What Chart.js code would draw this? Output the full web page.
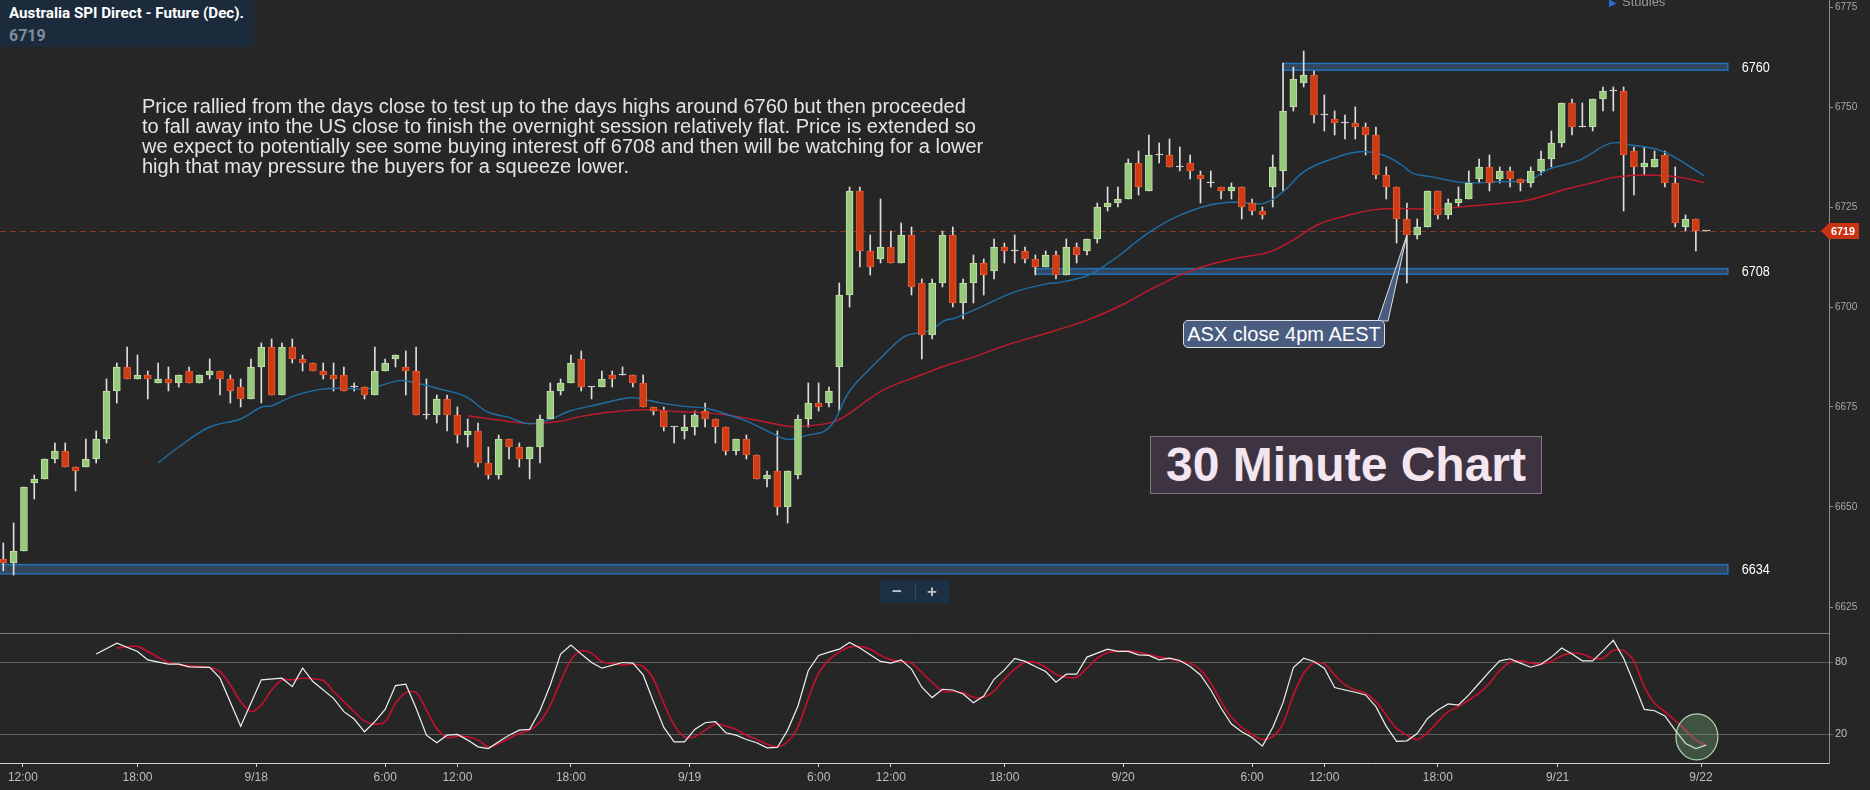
<!DOCTYPE html>
<html>
<head>
<meta charset="utf-8">
<title>Australia SPI Direct - Future (Dec). 30 Minute Chart</title>
<script src="https://cdn.jsdelivr.net/npm/chart.js@4.4.1/dist/chart.umd.min.js"></script>
<style>
  html, body { margin: 0; padding: 0; background: #262626; }
  #wrap { position: relative; width: 1870px; height: 790px; overflow: hidden; background: #262626; font-family: "Liberation Sans", Arial, sans-serif; }
  canvas { position: absolute; left: 0; }
  #priceCanvas { top: 0; }
  #stochCanvas { top: 633px; }
  .head { position: absolute; left: 0; top: 0; width: 254px; height: 47px; background: #1c2b3c; }
  .head .name { position: absolute; left: 9px; top: 5px; font: bold 14px/16px Roboto, sans-serif; color: #fff; white-space: nowrap; transform-origin: left top; }
  .head .last { position: absolute; left: 9px; top: 27px; font: bold 16px/18px Roboto, sans-serif; color: #7f8d9b; }
  .studies { position: absolute; left: 1609px; top: -6px; font: 13px/16px "Liberation Sans", Arial, sans-serif; color: #9a9a9a; white-space: nowrap; }
  .studies span { color: #2a6fd6; font-size: 10px; margin-right: 5px; }
  .note { position: absolute; left: 142px; top: 96px; font: 20px/20px "Liberation Sans", Arial, sans-serif; color: #e4e4e4; white-space: pre; }
  .asx { position: absolute; left: 1183px; top: 320px; width: 202px; height: 28px; box-sizing: border-box; border: 1px solid #d8dde8; border-radius: 5px; background: #4a5d80; color: #fff; font: 20px/26px "Liberation Sans", Arial, sans-serif; text-align: center; white-space: nowrap; }
  .tf { position: absolute; left: 1150px; top: 436px; width: 392px; height: 58px; box-sizing: border-box; border: 1.5px solid #85738a; background: #3e3441; color: #f3e6f0; font: bold 48px/55px "Liberation Sans", Arial, sans-serif; text-align: center; white-space: nowrap; }
  .zoom { position: absolute; left: 880px; top: 580px; width: 69px; height: 23px; background: #1c3044; border-radius: 2px; color: #c4c4c4; font: bold 17px/23px "Liberation Sans", Arial, sans-serif; }
  .zoom b { position: absolute; top: 0; width: 34px; text-align: center; }
  .zoom i { position: absolute; left: 35px; top: 3px; width: 1px; height: 17px; background: #2f4a62; }
</style>
</head>
<body>
<div id="wrap">
  <canvas id="priceCanvas" width="1870" height="633"></canvas>
  <canvas id="stochCanvas" width="1870" height="157"></canvas>
  <div class="head"><div class="name">Australia SPI Direct - Future (Dec).</div><div class="last">6719</div></div>
  <div class="studies"><span>&#9654;</span>Studies</div>
  <div class="note">Price rallied from the days close to test up to the days highs around 6760 but then proceeded
to fall away into the US close to finish the overnight session relatively flat. Price is extended so
we expect to potentially see some buying interest off 6708 and then will be watching for a lower
high that may pressure the buyers for a squeeze lower.</div>
  <div class="asx">ASX close 4pm AEST</div>
  <div class="tf">30 Minute Chart</div>
  <div class="zoom"><b style="left:0">&minus;</b><i></i><b style="left:35px">+</b></div>
</div>
<script>
// 30 minute bars, oldest first
const openP = [
  6637, 6636, 6639, 6656, 6657, 6662, 6664, 6660, 6660, 6662,
  6667, 6679, 6685, 6682, 6683, 6681, 6682, 6681, 6684, 6681,
  6683, 6684, 6682, 6680, 6677, 6685, 6690, 6678, 6690, 6687,
  6686, 6684, 6683, 6683, 6680, 6680, 6678, 6684, 6687, 6685,
  6684, 6673, 6673, 6677, 6673, 6668, 6669, 6661, 6658, 6667,
  6665, 6662, 6665, 6672, 6679, 6681, 6687, 6680, 6680, 6683,
  6683, 6683, 6681, 6675, 6674, 6670, 6669, 6670, 6674, 6672,
  6670, 6664, 6667, 6663, 6657, 6659, 6650, 6658, 6672, 6676,
  6676, 6685, 6703, 6729, 6714, 6712, 6715, 6711, 6718, 6706,
  6693, 6706, 6718, 6701, 6706, 6711, 6709, 6715, 6714, 6714,
  6712, 6710, 6713, 6708, 6715, 6714, 6717, 6725, 6726, 6727,
  6736, 6729, 6738, 6738, 6735, 6736, 6733, 6731, 6730, 6729,
  6730, 6726, 6724, 6730, 6734, 6750, 6756, 6758, 6748, 6747,
  6746, 6746, 6745, 6743, 6733, 6730, 6722, 6718, 6720, 6729,
  6723, 6726, 6727, 6732, 6735, 6732, 6734, 6732, 6731, 6734,
  6737, 6741, 6751, 6745, 6745, 6752, 6754, 6754, 6739, 6735,
  6735, 6738, 6731, 6720, 6722, 6719
];
const highP = [
  6641, 6646, 6655, 6658, 6662, 6666, 6666, 6660, 6667, 6669,
  6682, 6686, 6690, 6688, 6684, 6686, 6685, 6683, 6685, 6683,
  6687, 6684, 6683, 6682, 6687, 6691, 6692, 6691, 6692, 6688,
  6686, 6686, 6686, 6685, 6681, 6680, 6690, 6687, 6688, 6689,
  6690, 6682, 6678, 6678, 6675, 6672, 6671, 6665, 6668, 6667,
  6666, 6665, 6673, 6681, 6682, 6688, 6689, 6680, 6684, 6684,
  6685, 6683, 6683, 6675, 6675, 6670, 6673, 6674, 6676, 6672,
  6670, 6667, 6668, 6663, 6659, 6669, 6659, 6673, 6681, 6681,
  6680, 6706, 6730, 6730, 6718, 6727, 6719, 6721, 6720, 6707,
  6707, 6719, 6720, 6707, 6713, 6712, 6717, 6716, 6718, 6715,
  6713, 6714, 6714, 6717, 6716, 6717, 6726, 6730, 6730, 6737,
  6739, 6743, 6741, 6742, 6740, 6738, 6734, 6734, 6730, 6731,
  6730, 6727, 6725, 6738, 6761, 6760, 6764, 6759, 6753, 6749,
  6748, 6750, 6746, 6745, 6735, 6730, 6726, 6722, 6729, 6729,
  6727, 6730, 6734, 6737, 6738, 6735, 6735, 6732, 6735, 6739,
  6744, 6751, 6752, 6751, 6752, 6755, 6755, 6755, 6740, 6740,
  6739, 6739, 6735, 6723, 6722, 6719
];
const lowP = [
  6634, 6633, 6639, 6652, 6657, 6661, 6660, 6654, 6660, 6661,
  6666, 6676, 6682, 6682, 6677, 6681, 6679, 6680, 6681, 6681,
  6682, 6678, 6676, 6675, 6677, 6676, 6678, 6678, 6686, 6684,
  6684, 6682, 6679, 6679, 6679, 6677, 6678, 6684, 6685, 6678,
  6673, 6672, 6671, 6669, 6666, 6665, 6660, 6657, 6657, 6662,
  6660, 6657, 6661, 6672, 6678, 6681, 6679, 6677, 6680, 6680,
  6683, 6680, 6675, 6673, 6669, 6666, 6667, 6668, 6670, 6666,
  6663, 6663, 6662, 6657, 6655, 6648, 6646, 6657, 6670, 6674,
  6675, 6674, 6700, 6710, 6708, 6711, 6711, 6711, 6703, 6687,
  6692, 6705, 6700, 6697, 6701, 6703, 6707, 6711, 6711, 6711,
  6708, 6710, 6707, 6708, 6711, 6713, 6716, 6724, 6725, 6727,
  6728, 6729, 6736, 6735, 6734, 6732, 6726, 6730, 6727, 6727,
  6722, 6723, 6722, 6725, 6729, 6749, 6755, 6746, 6744, 6743,
  6742, 6742, 6738, 6732, 6727, 6716, 6706, 6717, 6720, 6722,
  6722, 6725, 6727, 6731, 6729, 6731, 6730, 6729, 6730, 6733,
  6735, 6740, 6743, 6745, 6744, 6749, 6749, 6724, 6728, 6733,
  6735, 6730, 6720, 6719, 6714, 6719
];
const closeP = [
  6636, 6639, 6655, 6657, 6662, 6664, 6660, 6659, 6662, 6667,
  6679, 6685, 6682, 6683, 6682, 6682, 6681, 6683, 6681, 6683,
  6684, 6682, 6679, 6677, 6685, 6690, 6678, 6690, 6687, 6686,
  6684, 6683, 6682, 6679, 6680, 6678, 6684, 6686, 6688, 6684,
  6673, 6673, 6677, 6673, 6668, 6669, 6661, 6658, 6667, 6665,
  6662, 6665, 6672, 6679, 6681, 6686, 6680, 6680, 6682, 6682,
  6683, 6681, 6675, 6674, 6670, 6670, 6670, 6673, 6672, 6670,
  6664, 6667, 6663, 6657, 6658, 6650, 6659, 6672, 6676, 6675,
  6679, 6703, 6729, 6714, 6710, 6715, 6711, 6718, 6705, 6693,
  6706, 6718, 6701, 6706, 6711, 6708, 6715, 6714, 6714, 6712,
  6710, 6713, 6708, 6715, 6713, 6717, 6725, 6726, 6727, 6736,
  6730, 6738, 6738, 6735, 6735, 6734, 6732, 6731, 6729, 6730,
  6725, 6724, 6723, 6735, 6749, 6757, 6758, 6748, 6748, 6746,
  6746, 6745, 6743, 6733, 6730, 6722, 6718, 6720, 6729, 6723,
  6726, 6727, 6731, 6735, 6731, 6734, 6732, 6731, 6734, 6737,
  6741, 6751, 6745, 6745, 6752, 6754, 6754, 6738, 6735, 6736,
  6737, 6731, 6721, 6722, 6719, 6719
];

// moving averages: [bar, price]
const maFast = [
  [15, 6661], [17, 6665], [20, 6670], [23, 6672], [25, 6675], [26, 6675.3], [28, 6677.6], [30.7, 6679.4],
  [33, 6679.7], [35.2, 6679.5], [38.4, 6681.6], [40, 6681], [42.3, 6679.5], [44.8, 6677.6], [46.9, 6673.8],
  [49, 6672.4], [50.9, 6670.8], [52.9, 6671.8], [54.9, 6674], [57.4, 6675.5], [60.6, 6677.3], [61.9, 6677],
  [63.9, 6675.9], [66.2, 6675.1], [68.1, 6674.7], [70.3, 6673], [72.2, 6671.3], [74.5, 6668.4], [76, 6666.9],
  [77.7, 6667.8], [80, 6669.8], [82, 6679], [83.9, 6684.4], [85, 6687.2], [87.3, 6692.6], [88.9, 6693.6],
  [89.9, 6694.3], [91.2, 6696.6], [92.2, 6697.2], [94.8, 6700.1], [98, 6703.8], [101.3, 6705.9], [102.3, 6706.1],
  [105.2, 6708], [107.1, 6711], [108.4, 6713.4], [109.2, 6715.1], [111.1, 6718.8], [113.7, 6722.6], [116.9, 6725.5],
  [119.5, 6726.2], [122.1, 6725.9], [124, 6728.8], [126, 6733.8], [128.5, 6736.8], [131.4, 6738.8], [133.7, 6738],
  [135.5, 6735.5], [136.6, 6733.4], [138.3, 6732.6], [141.5, 6731.1], [144.7, 6731.3], [147.9, 6731.8],
  [149.6, 6734.3], [152.8, 6736.8], [155.7, 6740.9], [157.7, 6740.5], [160.9, 6738.8], [164.8, 6732.8]
];
const maSlow = [
  [45, 6672.8], [47.8, 6671.8], [51, 6670.9], [53.6, 6671.3], [55.9, 6672.6], [59.1, 6673.8], [62.3, 6674.3],
  [65.6, 6673.8], [68.8, 6673.4], [72, 6672.2], [75.3, 6670.5], [76.9, 6670.1], [80.2, 6671.1], [81.5, 6672.6],
  [84, 6677.2], [85.6, 6679.7], [88.9, 6683], [91.5, 6685.5], [93.7, 6687.2], [97, 6690.3], [101.8, 6694],
  [105.1, 6696.8], [108.4, 6700.5], [111.4, 6704.7], [115.3, 6709.3], [119.5, 6712.2], [122.7, 6713.8],
  [125, 6716.8], [127.3, 6720.5], [129.8, 6722.6], [133.1, 6724.4], [136.3, 6724.6], [138.6, 6724.4],
  [141.5, 6725.1], [144.7, 6725.8], [147.9, 6726.8], [151.2, 6729.3], [154.4, 6731.3], [156, 6732.4],
  [159.3, 6733], [162.5, 6732.4], [164.8, 6731.1]
];

// stochastic %K (white) and %D (red): [bar, value]
const stochK = [
  [9, 86.7], [11, 95.8], [13, 88.9], [14, 81.9], [16, 78.3], [17, 78.3], [18, 76.1], [20, 75.6], [21, 66.7],
  [23, 26.9], [25, 65.3], [27, 66.7], [28, 59.7], [29, 75], [30, 63.9], [32, 50], [33, 38.9], [34, 32.8],
  [35, 22.2], [36, 30.6], [37, 40.8], [38, 60.6], [39, 61.7], [40, 41.7], [41, 19.4], [42, 13.1], [43, 19.4],
  [44, 20], [45, 15.3], [46, 9.7], [47, 8.3], [48, 13.9], [49, 19.4], [50, 23.6], [51, 24.2], [52, 39.7],
  [53, 61.1], [54, 86.7], [55, 94.2], [56, 86.7], [57, 79.7], [58, 75], [60, 79.7], [61, 79.2], [62, 69.4],
  [63, 47.2], [64, 25.8], [65, 13.9], [66, 13.9], [67, 24.2], [68, 29.7], [69, 30.6], [70, 21.4], [71, 19.4],
  [72, 15.8], [73, 13.1], [74, 8.9], [75, 9.2], [76, 23.6], [77, 43.6], [78, 73.1], [79, 85.6], [80, 88.3],
  [81, 90.8], [82, 96.4], [83, 91.7], [84, 86.1], [85, 80.6], [86, 79.2], [87, 81.9], [88, 74.2], [89, 59.2],
  [90, 50.6], [91, 57.5], [92, 56.9], [93, 53.6], [94, 46.4], [95, 51.9], [96, 65.8], [97, 73.6], [98, 83.1],
  [99, 80.6], [100, 76.4], [101, 72.2], [102, 63.3], [103, 70], [104, 70], [105, 84.2], [106, 87.5], [107, 90.8],
  [108, 88.9], [109, 88.9], [110, 86.1], [111, 85.6], [112, 81.9], [113, 83.3], [114, 81.4], [115, 76.4],
  [116, 69.4], [117, 56.9], [118, 41.7], [119, 28.6], [120, 22.2], [121, 17.5], [122, 10.3], [123, 25.8],
  [124, 46.4], [125, 75.6], [126, 83.3], [127, 80.6], [128, 75], [129, 58.9], [130, 56.9], [131, 55],
  [132, 52.8], [133, 43.1], [134, 26.7], [135, 14.2], [136, 14.7], [137, 20.8], [138, 33.3], [139, 40.3],
  [140, 45.3], [141, 44.4], [142, 52.8], [143, 62.5], [144, 72.2], [145, 81.1], [146, 82.8], [147, 79.2],
  [148, 75.8], [149, 78.3], [150, 84.2], [151, 91.7], [152, 86.7], [153, 81.1], [154, 81.1], [155, 89.4],
  [156, 98.1], [157, 83.3], [158, 62.5], [159, 40.8], [160, 39.7], [161, 35.3], [162, 23.6], [163, 12.5],
  [164, 8.3], [165, 11.1]
];
const stochD = [
  [11, 91.7], [13, 93.1], [14, 88.9], [16, 80], [18, 76.9], [20, 75.6], [21, 72.2], [22, 61.1], [23, 47.2],
  [24, 38.9], [25, 44.4], [26, 56.9], [27, 65.3], [28, 65.3], [29, 66.7], [31, 64.7], [32, 55.6], [33, 47.2],
  [34, 38.9], [35, 31.1], [36, 28.6], [37, 30.6], [38, 45.8], [39, 54.7], [40, 54.7], [41, 40.3], [42, 25],
  [43, 17.5], [44, 18.6], [45, 18.1], [46, 15.3], [47, 9.7], [48, 12.5], [49, 16.7], [50, 20.8], [51, 23.6],
  [52, 30.6], [53, 44.4], [54, 63.9], [55, 81.9], [56, 89.4], [57, 87.5], [58, 80.6], [60, 77.8], [61, 78.3],
  [62, 76.4], [63, 65.8], [64, 45.8], [65, 27.8], [66, 18.1], [67, 18.1], [69, 28.6], [70, 26.9], [71, 24.2],
  [72, 19.4], [73, 15.8], [74, 11.9], [75, 9.7], [76, 13.9], [77, 26.4], [78, 50], [79, 70.8], [80, 81.9],
  [81, 88.3], [82, 92.5], [83, 93.1], [84, 90.8], [85, 85.6], [86, 81.9], [87, 80.6], [88, 79.2], [89, 71.4],
  [90, 63.1], [91, 56.1], [92, 55.6], [93, 54.7], [94, 50.8], [95, 50.8], [96, 56.1], [97, 65.8], [98, 74.2],
  [99, 79.7], [100, 79.7], [101, 75.8], [102, 70], [103, 67.5], [104, 67.5], [105, 75], [106, 83.3],
  [107, 88.1], [108, 88.9], [109, 89.4], [110, 88.1], [111, 86.1], [112, 84.2], [113, 82.8], [114, 80.6],
  [115, 79.2], [116, 73.6], [117, 62.5], [118, 47.2], [119, 34.2], [120, 25.8], [121, 20], [122, 15.8],
  [123, 18.1], [124, 29.2], [125, 52.8], [126, 70.8], [127, 79.2], [128, 78.6], [129, 69.4], [130, 61.1],
  [131, 56.9], [132, 54.2], [133, 47.2], [134, 36.1], [135, 25], [136, 19.4], [137, 15.8], [138, 21.4],
  [139, 30.6], [140, 38.9], [141, 43.1], [142, 48.6], [143, 54.2], [144, 62.5], [145, 73.1], [146, 80],
  [147, 81.1], [148, 79.2], [149, 78.6], [150, 80.6], [151, 85.3], [152, 87.5], [153, 86.7], [154, 83.3],
  [155, 83.3], [156, 89.7], [157, 89.4], [158, 80.6], [159, 59.7], [160, 45.8], [161, 38.9], [162, 31.4],
  [163, 23.6], [164, 15.3], [165, 11.1]
];

// axis ticks
const timeTickBars = [1.9, 13, 24.5, 37, 44, 55, 66.5, 79, 86, 97, 108.5, 121, 128, 139, 150.6, 164.5];
const timeTickLabels = ["12:00", "18:00", "9/18", "6:00", "12:00", "18:00", "9/19", "6:00", "12:00", "18:00", "9/20", "6:00", "12:00", "18:00", "9/21", "9/22"];
const priceTicks = [6625, 6650, 6675, 6700, 6725, 6750, 6775];
const stochTicks = [20, 80];

// drawn levels (zones) and markers
const zoneLabels = ["6760", "6708", "6634"];
const zoneLow = [6759.2, 6708.2, 6633.3];
const zoneHigh = [6760.9, 6709.6, 6635.6];
const zoneFromBar = [124, 100, null];
const zoneToBar = 167.1;
const lastPrice = 6719;
const asxBar = 136;
const asxPrice = 6718;
const circleBar = 164.1;
const circleValue = 18;

const X_MIN = -0.32;
const X_MAX = 176.9;

const GREEN = "#99c97c", GREEN_EDGE = "#c0e2aa";
const RED = "#cf3b12", RED_EDGE = "#e85b32";
const FLAT = "#e2e2e2";

function bodyColor(i, up, down) {
  if (closeP[i] > openP[i]) return up;
  if (closeP[i] < openP[i]) return down;
  return FLAT;
}

function pinAxis(width, height) {
  return function (scale) {
    if (width != null) scale.width = width;
    if (height != null) scale.height = height;
    scale.paddingTop = 0;
    scale.paddingBottom = 0;
    scale.paddingLeft = 0;
    scale.paddingRight = 0;
  };
}

const priceMarks = {
  id: "priceMarks",
  beforeDatasetsDraw(chart) {
    const { ctx, chartArea } = chart;
    const x = chart.scales.x, y = chart.scales.y;
    ctx.save();
    for (let k = 0; k < zoneLabels.length; k++) {
      const left = zoneFromBar[k] == null ? chartArea.left - 3 : x.getPixelForValue(zoneFromBar[k]);
      const right = x.getPixelForValue(zoneToBar);
      const top = y.getPixelForValue(zoneHigh[k]);
      const bottom = y.getPixelForValue(zoneLow[k]);
      ctx.fillStyle = "#34465b";
      ctx.fillRect(left, top, right - left, bottom - top);
      ctx.strokeStyle = "#2171b8";
      ctx.lineWidth = 1.5;
      ctx.strokeRect(left, top, right - left, bottom - top);
    }
    const yl = Math.round(y.getPixelForValue(lastPrice)) + 0.5;
    ctx.strokeStyle = "#8a3a2b";
    ctx.lineWidth = 1;
    ctx.setLineDash([6, 4]);
    ctx.beginPath();
    ctx.moveTo(chartArea.left, yl);
    ctx.lineTo(chartArea.right - 8, yl);
    ctx.stroke();
    ctx.restore();
  },
  afterDatasetsDraw(chart) {
    const { ctx } = chart;
    const x = chart.scales.x, y = chart.scales.y;
    ctx.save();
    ctx.beginPath();
    ctx.moveTo(1378, 321);
    ctx.lineTo(x.getPixelForValue(asxBar), y.getPixelForValue(asxPrice));
    ctx.lineTo(1388, 321);
    ctx.closePath();
    ctx.fillStyle = "#4a5d80";
    ctx.fill();
    ctx.strokeStyle = "#d8dde8";
    ctx.lineWidth = 1;
    ctx.stroke();
    ctx.restore();
  },
  afterDraw(chart) {
    const { ctx, chartArea } = chart;
    const x = chart.scales.x, y = chart.scales.y;
    ctx.save();
    ctx.fillStyle = "#ffffff";
    ctx.font = '14px "Liberation Sans", Arial, sans-serif';
    ctx.textBaseline = "middle";
    ctx.textAlign = "left";
    for (let k = 0; k < zoneLabels.length; k++) {
      const yc = y.getPixelForValue((zoneLow[k] + zoneHigh[k]) / 2);
      ctx.fillText(zoneLabels[k], x.getPixelForValue(zoneToBar) + 14, yc + 1, 28);
    }
    const yc = y.getPixelForValue(lastPrice);
    const tip = chartArea.right - 8;
    ctx.beginPath();
    ctx.moveTo(tip, yc);
    ctx.lineTo(tip + 8, yc - 8);
    ctx.lineTo(chartArea.right + 30, yc - 8);
    ctx.lineTo(chartArea.right + 30, yc + 8);
    ctx.lineTo(tip + 8, yc + 8);
    ctx.closePath();
    ctx.fillStyle = "#c93312";
    ctx.fill();
    ctx.fillStyle = "#ffffff";
    ctx.font = 'bold 11px "Liberation Sans", Arial, sans-serif';
    ctx.textAlign = "center";
    ctx.fillText(String(lastPrice), chartArea.right + 14, yc + 1, 24);
    ctx.restore();
  }
};

const stochMarks = {
  id: "stochMarks",
  beforeDatasetsDraw(chart) {
    const { ctx, chartArea } = chart;
    ctx.save();
    ctx.strokeStyle = "#7c7c7c";
    ctx.lineWidth = 1;
    ctx.beginPath();
    ctx.moveTo(chartArea.left, chartArea.top + 0.5);
    ctx.lineTo(chartArea.right, chartArea.top + 0.5);
    ctx.stroke();
    ctx.restore();
  },
  afterDatasetsDraw(chart) {
    const { ctx } = chart;
    const cx = chart.scales.x.getPixelForValue(circleBar);
    const cy = chart.scales.y.getPixelForValue(circleValue);
    ctx.save();
    ctx.beginPath();
    ctx.ellipse(cx, cy, 21, 23, 0, 0, Math.PI * 2);
    ctx.fillStyle = "rgba(120, 180, 130, 0.32)";
    ctx.fill();
    ctx.strokeStyle = "rgba(200, 235, 200, 0.85)";
    ctx.lineWidth = 1.2;
    ctx.stroke();
    ctx.restore();
  }
};

function pts(list) {
  return list.map((p) => ({ x: p[0], y: p[1] }));
}

function drawPrice() {
  const bars = openP.map((o, i) => i);
  new Chart(document.getElementById("priceCanvas"), {
    type: "bar",
    data: {
      datasets: [
        {
          label: "Wick",
          data: bars.map((i) => ({ x: i, y: [lowP[i], highP[i]] })),
          backgroundColor: "#dedede",
          barThickness: 1,
          grouped: false,
          order: 4,
        },
        {
          type: "line",
          label: "MA fast",
          data: pts(maFast),
          borderColor: "#1f6fa8",
          borderWidth: 1.4,
          pointRadius: 0,
          tension: 0.4,
          order: 3,
        },
        {
          type: "line",
          label: "MA slow",
          data: pts(maSlow),
          borderColor: "#c21a2c",
          borderWidth: 1.4,
          pointRadius: 0,
          tension: 0.4,
          order: 3,
        },
        {
          label: "Body",
          data: bars.map((i) => ({ x: i, y: [openP[i], closeP[i]] })),
          backgroundColor: bars.map((i) => bodyColor(i, GREEN, RED)),
          borderColor: bars.map((i) => bodyColor(i, GREEN_EDGE, RED_EDGE)),
          borderWidth: 1,
          borderSkipped: false,
          barThickness: 7,
          minBarLength: 1,
          grouped: false,
          order: 1,
        },
      ],
    },
    options: {
      responsive: false,
      animation: false,
      events: [],
      layout: { padding: 0 },
      plugins: { legend: { display: false }, tooltip: { enabled: false } },
      scales: {
        x: {
          type: "linear",
          min: X_MIN,
          max: X_MAX,
          offset: false,
          display: false,
        },
        y: {
          position: "right",
          min: 6618.5,
          max: 6776.75,
          afterBuildTicks: (s) => { s.ticks = priceTicks.map((v) => ({ value: v })); },
          afterFit: pinAxis(41, null),
          grid: { drawOnChartArea: false, drawTicks: true, tickLength: 4, color: "#8c8c8c" },
          border: { display: true, color: "#8c8c8c" },
          ticks: {
            color: "#a8a8a8",
            padding: 2,
            font: { size: 10, family: '"Liberation Sans", Arial, sans-serif' },
            callback: (v) => String(v),
          },
        },
      },
    },
    plugins: [priceMarks],
  });
}

function drawStoch() {
  new Chart(document.getElementById("stochCanvas"), {
    type: "line",
    data: {
      datasets: [
        {
          label: "%K",
          data: pts(stochK),
          borderColor: "#f0f0f0",
          borderWidth: 1.2,
          pointRadius: 0,
          tension: 0,
          order: 1,
        },
        {
          label: "%D",
          data: pts(stochD),
          borderColor: "#c8102e",
          borderWidth: 1.6,
          pointRadius: 0,
          tension: 0.3,
          order: 2,
        },
      ],
    },
    options: {
      responsive: false,
      animation: false,
      events: [],
      layout: { padding: 0 },
      plugins: { legend: { display: false }, tooltip: { enabled: false } },
      scales: {
        x: {
          type: "linear",
          min: X_MIN,
          max: X_MAX,
          offset: false,
          afterBuildTicks: (s) => { s.ticks = timeTickBars.map((v) => ({ value: v })); },
          afterFit: pinAxis(null, 27),
          grid: { drawOnChartArea: false, drawTicks: true, tickLength: 4, color: "#cfcfcf" },
          border: { display: true, color: "#cfcfcf" },
          ticks: {
            autoSkip: false,
            maxRotation: 0,
            color: "#bdbdbd",
            padding: 3,
            font: { size: 12, family: '"Liberation Sans", Arial, sans-serif' },
            callback: (v, idx) => timeTickLabels[idx],
          },
        },
        y: {
          position: "right",
          min: -3.7,
          max: 104.2,
          afterBuildTicks: (s) => { s.ticks = stochTicks.map((v) => ({ value: v })); },
          afterFit: pinAxis(41, null),
          grid: { drawOnChartArea: true, drawTicks: true, tickLength: 4, color: "#5e5e5e" },
          border: { display: true, color: "#8c8c8c" },
          ticks: {
            color: "#bdbdbd",
            padding: 2,
            font: { size: 11, family: '"Liberation Sans", Arial, sans-serif' },
            callback: (v) => String(v),
          },
        },
      },
    },
    plugins: [stochMarks],
  });
}

function fitTitle() {
  const el = document.querySelector(".head .name");
  const w = el.getBoundingClientRect().width;
  if (w > 0) el.style.transform = "scaleX(" + (235 / w).toFixed(3) + ")";
}

window.addEventListener("load", function () {
  fitTitle();
  drawPrice();
  drawStoch();
});
</script>
</body>
</html>
